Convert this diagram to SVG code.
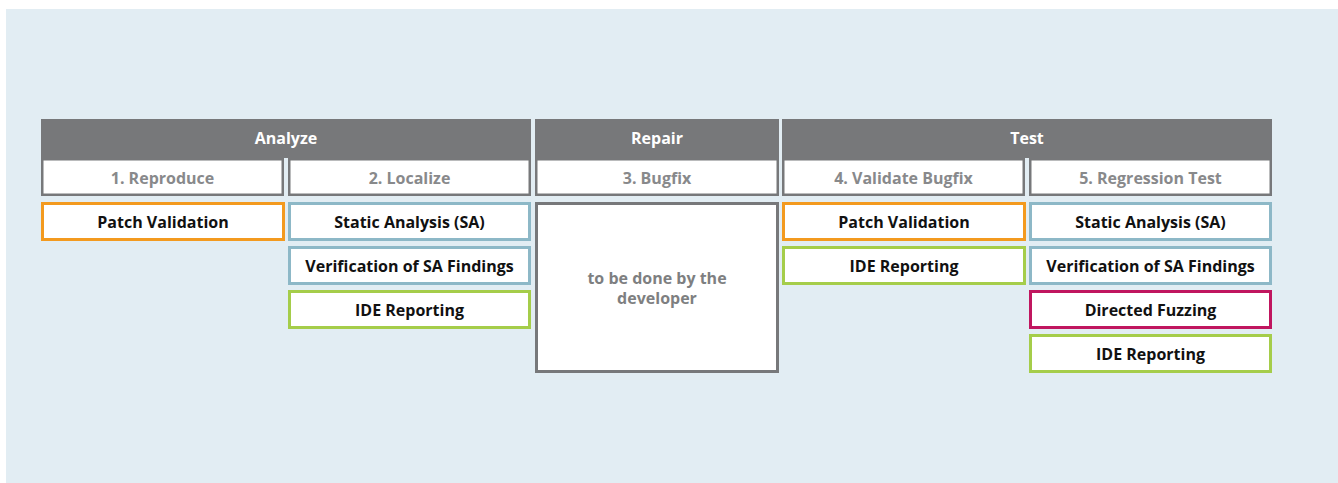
<svg xmlns="http://www.w3.org/2000/svg" width="1338" height="483" viewBox="0 0 1338 483">
  <style>
    text { font-family: "Open Sans", "Noto Sans", "Liberation Sans", sans-serif; font-weight: 700; text-anchor: middle; dominant-baseline: central; font-size: 16px; }
    .hdr rect { fill: #77787a; }
    .hdr text { fill: #ffffff; }
    .step rect { fill: #ffffff; stroke: #77787a; stroke-width: 2.5; }
    .step text { fill: #88898b; }
    .item rect { fill: #ffffff; stroke-width: 3; }
    .item text { fill: #111111; }
    .orange rect { stroke: #f39a1f; }
    .blue rect { stroke: #8db8c7; }
    .green rect { stroke: #a5cd4a; }
    .magenta rect { stroke: #c0165f; }
    .dev rect { fill: #ffffff; stroke: #77787a; stroke-width: 3; }
    .dev text { fill: #7e7f81; }
  </style>

  <!-- background panel -->
  <rect x="6" y="9" width="1332" height="474" fill="#e2edf3"/>

  <!-- phase headers -->
  <g id="phase-analyze" class="hdr">
    <rect x="41" y="119" width="490" height="39"/>
    <text x="286" y="138">Analyze</text>
  </g>
  <g id="phase-repair" class="hdr">
    <rect x="535" y="119" width="244" height="39"/>
    <text x="657" y="138">Repair</text>
  </g>
  <g id="phase-test" class="hdr">
    <rect x="782" y="119" width="490" height="39"/>
    <text x="1027" y="138">Test</text>
  </g>

  <!-- steps -->
  <g id="step-1" class="step">
    <rect x="42.25" y="159.25" width="240.5" height="35.5"/>
    <text x="162.5" y="177.5">1. Reproduce</text>
  </g>
  <g id="step-2" class="step">
    <rect x="289.25" y="159.25" width="240.5" height="35.5"/>
    <text x="409.5" y="177.5">2. Localize</text>
  </g>
  <g id="step-3" class="step">
    <rect x="536.25" y="159.25" width="241.5" height="35.5"/>
    <text x="657" y="177.5">3. Bugfix</text>
  </g>
  <g id="step-4" class="step">
    <rect x="783.25" y="159.25" width="240.5" height="35.5"/>
    <text x="903.5" y="177.5">4. Validate Bugfix</text>
  </g>
  <g id="step-5" class="step">
    <rect x="1030.25" y="159.25" width="240.5" height="35.5"/>
    <text x="1150.5" y="177.5">5. Regression Test</text>
  </g>

  <!-- 1. Reproduce -->
  <g id="reproduce-patch-validation" class="item orange">
    <rect x="42.5" y="203.5" width="241" height="36"/>
    <text x="163" y="221.5">Patch Validation</text>
  </g>

  <!-- 2. Localize -->
  <g id="localize-static-analysis" class="item blue">
    <rect x="289.5" y="203.5" width="240" height="36"/>
    <text x="409.5" y="221.5">Static Analysis (SA)</text>
  </g>
  <g id="localize-verification" class="item blue">
    <rect x="289.5" y="247.5" width="240" height="36"/>
    <text x="409.5" y="265.5">Verification of SA Findings</text>
  </g>
  <g id="localize-ide-reporting" class="item green">
    <rect x="289.5" y="291.5" width="240" height="36"/>
    <text x="409.5" y="309.5">IDE Reporting</text>
  </g>

  <!-- 3. Bugfix -->
  <g id="bugfix-developer" class="dev">
    <rect x="536.5" y="203.5" width="241" height="168"/>
    <text x="657" y="278">to be done by the</text>
    <text x="657" y="298">developer</text>
  </g>

  <!-- 4. Validate Bugfix -->
  <g id="validate-patch-validation" class="item orange">
    <rect x="783.5" y="203.5" width="241" height="36"/>
    <text x="904" y="221.5">Patch Validation</text>
  </g>
  <g id="validate-ide-reporting" class="item green">
    <rect x="783.5" y="247.5" width="241" height="36"/>
    <text x="904" y="265.5">IDE Reporting</text>
  </g>

  <!-- 5. Regression Test -->
  <g id="regression-static-analysis" class="item blue">
    <rect x="1030.5" y="203.5" width="240" height="36"/>
    <text x="1150.5" y="221.5">Static Analysis (SA)</text>
  </g>
  <g id="regression-verification" class="item blue">
    <rect x="1030.5" y="247.5" width="240" height="36"/>
    <text x="1150.5" y="265.5">Verification of SA Findings</text>
  </g>
  <g id="regression-directed-fuzzing" class="item magenta">
    <rect x="1030.5" y="291.5" width="240" height="36"/>
    <text x="1150.5" y="309.5">Directed Fuzzing</text>
  </g>
  <g id="regression-ide-reporting" class="item green">
    <rect x="1030.5" y="335.5" width="240" height="36"/>
    <text x="1150.5" y="353.5">IDE Reporting</text>
  </g>

  <!-- no connectors in this chart -->
  <g id="connectors"/>
</svg>
